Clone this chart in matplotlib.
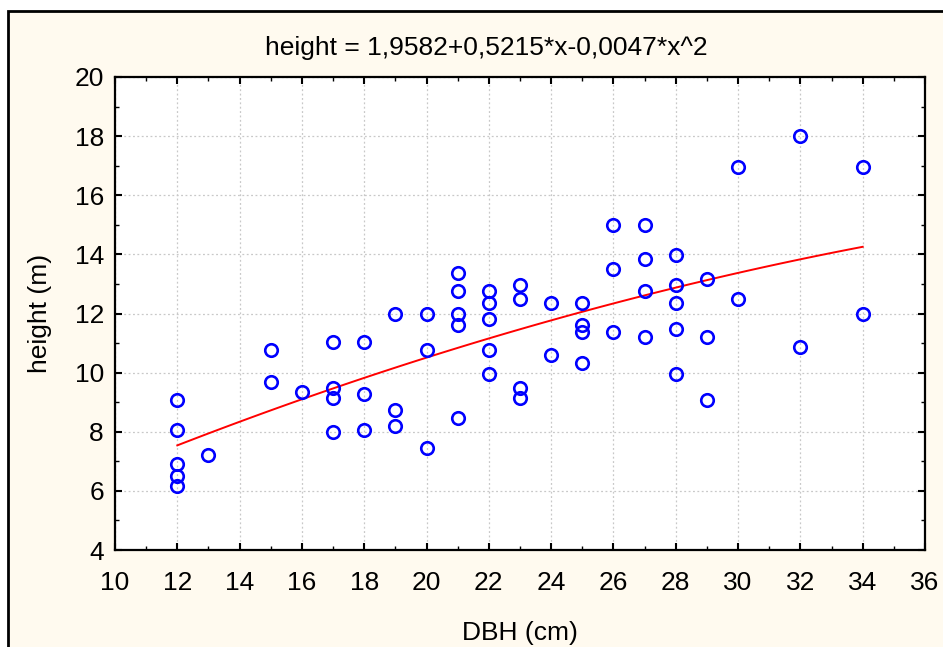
import numpy as np
import matplotlib.pyplot as plt
from matplotlib.patches import Rectangle
from matplotlib.ticker import MultipleLocator

plt.rcParams["font.family"] = ["Liberation Sans", "DejaVu Sans"]

# DBH (cm) and tree height (m)
dbh = [
    12, 12, 12, 12, 12,
    13,
    15, 15,
    16,
    17, 17, 17, 17,
    18, 18, 18,
    19, 19, 19,
    20, 20, 20,
    21, 21, 21, 21, 21,
    22, 22, 22, 22, 22,
    23, 23, 23, 23,
    24, 24,
    25, 25, 25, 25,
    26, 26, 26,
    27, 27, 27, 27,
    28, 28, 28, 28, 28,
    29, 29, 29,
    30, 30,
    32, 32,
    34, 34,
]
height = [
    9.08, 8.06, 6.92, 6.49, 6.15,
    7.23,
    10.77, 9.69,
    9.36,
    11.05, 9.49, 9.14, 7.99,
    11.05, 9.29, 8.06,
    12.0, 8.74, 8.18,
    12.0, 10.78, 7.45,
    13.38, 12.76, 12.0, 11.6, 8.46,
    12.76, 12.36, 11.81, 10.78, 9.97,
    12.96, 12.49, 9.49, 9.14,
    12.36, 10.59,
    12.36, 11.6, 11.39, 10.31,
    15.01, 13.5, 11.39,
    15.01, 13.84, 12.76, 11.19,
    13.99, 12.96, 12.36, 11.46, 9.97,
    13.16, 11.19, 9.07,
    16.97, 12.49,
    18.01, 10.86,
    16.97, 12.0,
]

# fitted polynomial from the title
coef = [1.9582, 0.5215, -0.0047]

fig = plt.figure(figsize=(9.43, 6.47), dpi=100, facecolor="white")
fig.patches.append(
    Rectangle(
        (8 / 943, -0.1), 1.2, 1 - 11 / 647 + 0.1,
        transform=fig.transFigure, facecolor="#fffaef",
        edgecolor="black", linewidth=2, zorder=-5,
    )
)

ax = fig.add_axes([115 / 943, 1 - 550 / 647, 810 / 943, 473 / 647])
ax.set_zorder(2)
ax.set_facecolor("white")

xf = np.linspace(min(dbh), max(dbh), 100)
yf = coef[0] + coef[1] * xf + coef[2] * xf ** 2
ax.plot(xf, yf, color="red", linewidth=1.4, zorder=2)

ax.plot(
    dbh, height, linestyle="none", marker="o", markersize=9,
    markerfacecolor="none", markeredgecolor="blue", markeredgewidth=1.9,
    zorder=3,
)

ax.set_xlim(10, 36)
ax.set_ylim(4, 20)
ax.xaxis.set_major_locator(MultipleLocator(2))
ax.xaxis.set_minor_locator(MultipleLocator(1))
ax.yaxis.set_major_locator(MultipleLocator(2))
ax.yaxis.set_minor_locator(MultipleLocator(1))
ax.tick_params(which="both", direction="in", top=True, right=True,
               labelsize=19, color="black")
ax.tick_params(which="major", length=5, width=1.5)
ax.tick_params(which="minor", length=3, width=1)
ax.tick_params(axis="x", which="major", pad=15)
ax.tick_params(axis="y", which="major", pad=8)
ax.grid(True, which="major", linestyle=(0, (1.5, 2)), color="#c8c8c8",
        linewidth=0.9)
for sp in ax.spines.values():
    sp.set_linewidth(1.6)

ax.set_title("height = 1,9582+0,5215*x-0,0047*x^2", fontsize=19, pad=16,
             x=(486 - 115) / 810)
ax.set_xlabel("DBH (cm)", fontsize=19, labelpad=19)
ax.set_ylabel("height (m)", fontsize=19, labelpad=16)

fig.savefig("out.png", dpi=100, facecolor=fig.get_facecolor())
